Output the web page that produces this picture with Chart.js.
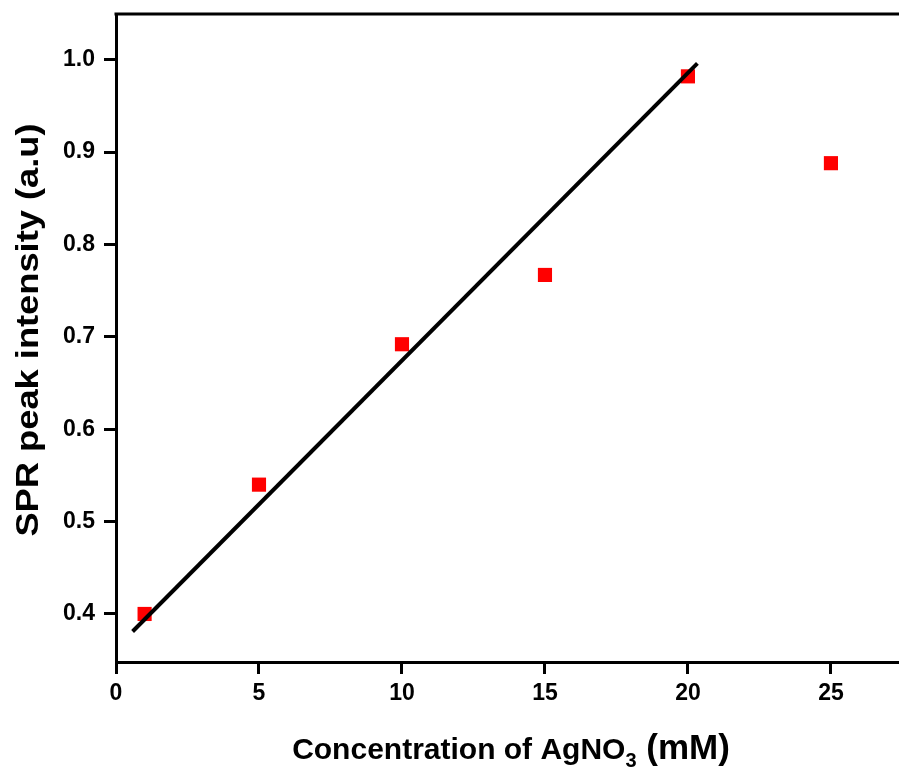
<!DOCTYPE html>
<html>
<head>
<meta charset="utf-8">
<script src="https://cdn.jsdelivr.net/npm/chart.js@4/dist/chart.umd.min.js"></script>
<style>
  html, body { margin: 0; padding: 0; background: #fff; }
  #wrap { width: 899px; height: 775px; }
</style>
</head>
<body>
<div id="wrap"><canvas id="c" width="899" height="775"></canvas></div>
<script>
// Measured data (AgNO3 concentration in mM vs SPR peak intensity)
const concentrations = [1, 5, 10, 15, 20, 25];
const intensities = [0.400, 0.540, 0.692, 0.767, 0.982, 0.888];
// Linear fit line end points
const fitX = [0.58, 20.33];
const fitY = [0.381, 0.996];
// Tick labels
const xTicks = [0, 5, 10, 15, 20, 25];
const yTicks = [0.4, 0.5, 0.6, 0.7, 0.8, 0.9, 1.0];

const FONT = "'Liberation Sans', Arial, sans-serif";

const framePlugin = {
  id: 'frame',
  afterDraw(chart) {
    const { ctx, chartArea } = chart;
    ctx.save();
    // top frame line
    ctx.strokeStyle = '#000';
    ctx.lineWidth = 3;
    ctx.beginPath();
    ctx.moveTo(chartArea.left - 1.5, chartArea.top);
    ctx.lineTo(chartArea.right, chartArea.top);
    ctx.stroke();

    // x title with subscript
    ctx.fillStyle = '#000';
    ctx.textBaseline = 'alphabetic';
    ctx.textAlign = 'left';
    const parts = [
      { t: 'Concentration of AgNO', f: 'bold 30px ' + FONT, dy: 0 },
      { t: '3', f: 'bold 20px ' + FONT, dy: 8 },
      { t: ' (mM)', f: 'bold 35px ' + FONT, dy: 0 }
    ];
    let total = 0;
    parts.forEach(p => { ctx.font = p.f; p.w = ctx.measureText(p.t).width; total += p.w; });
    let x = 511 - total / 2;
    const base = 759;
    parts.forEach(p => { ctx.font = p.f; ctx.fillText(p.t, x, base + p.dy); x += p.w; });

    // y title
    ctx.translate(38, 330);
    ctx.rotate(-Math.PI / 2);
    ctx.textAlign = 'center';
    ctx.font = 'bold 31px ' + FONT;
    ctx.scale(1.17, 1);
    ctx.fillText('SPR peak intensity (a.u)', 0, 0);
    ctx.restore();
  }
};

new Chart(document.getElementById('c'), {
  data: {
    datasets: [
      {
        type: 'line',
        label: 'Linear fit',
        data: fitX.map((x, i) => ({ x: x, y: fitY[i] })),
        borderColor: '#000',
        borderWidth: 4,
        pointRadius: 0,
        fill: false,
        order: 0
      },
      {
        type: 'scatter',
        label: 'SPR peak intensity',
        data: concentrations.map((x, i) => ({ x: x, y: intensities[i] })),
        pointStyle: 'rect',
        pointRadius: 10,
        pointHoverRadius: 10,
        backgroundColor: '#ff0000',
        borderColor: '#ff0000',
        borderWidth: 0,
        order: 1
      }
    ]
  },
  options: {
    responsive: false,
    animation: false,
    layout: { autoPadding: false, padding: { top: 14, right: 0, left: 0, bottom: 0 } },
    plugins: { legend: { display: false }, tooltip: { enabled: false }, title: { display: false } },
    scales: {
      x: {
        type: 'linear',
        min: 0,
        max: 27.38,
        afterFit: s => { s.height = 113; s.paddingLeft = 0; s.paddingRight = 0; },
        afterBuildTicks: s => { s.ticks = xTicks.map(v => ({ value: v })); },
        grid: { drawOnChartArea: false, drawTicks: true, tickLength: 12, tickWidth: 3, tickColor: '#000' },
        border: { display: true, color: '#000', width: 3 },
        ticks: {
          color: '#000',
          padding: 6,
          font: { family: FONT, size: 23, weight: 'bold' },
          callback: v => String(v)
        }
      },
      y: {
        type: 'linear',
        min: 0.348,
        max: 1.0495,
        afterFit: s => { s.width = 116; s.paddingTop = 0; s.paddingBottom = 0; },
        afterBuildTicks: s => { s.ticks = yTicks.map(v => ({ value: v })); },
        grid: { drawOnChartArea: false, drawTicks: true, tickLength: 12, tickWidth: 3, tickColor: '#000' },
        border: { display: true, color: '#000', width: 3 },
        ticks: {
          color: '#000',
          padding: 9,
          font: { family: FONT, size: 23, weight: 'bold' },
          callback: v => v.toFixed(1)
        }
      }
    }
  },
  plugins: [framePlugin]
});
</script>
</body>
</html>
